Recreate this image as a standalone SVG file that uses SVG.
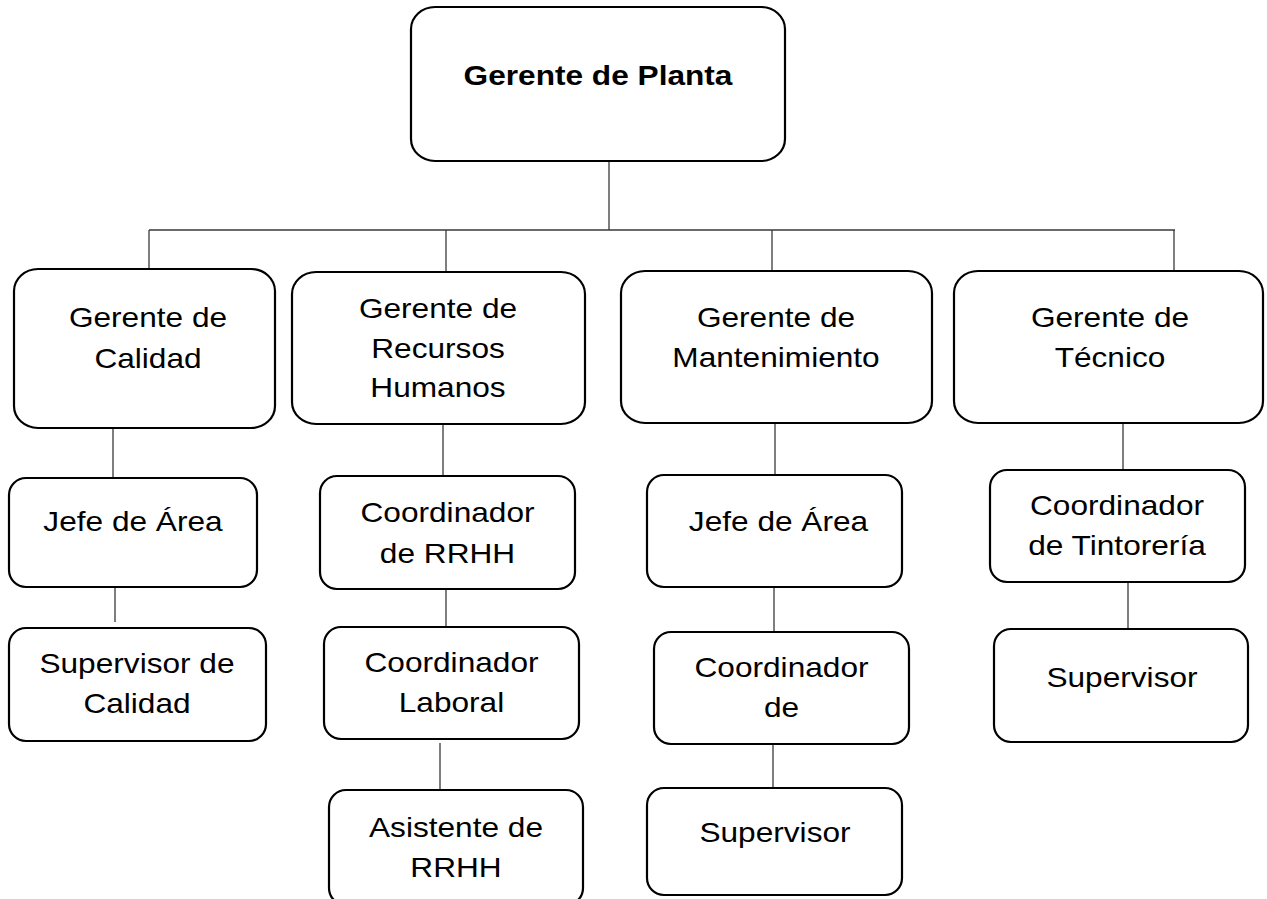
<svg xmlns="http://www.w3.org/2000/svg" width="1267" height="899" viewBox="0 0 1267 899">
<style>
.box{fill:#fff;stroke:#000;stroke-width:2.2}
.t{font-family:"Liberation Sans",Arial,sans-serif;font-size:28.5px;fill:#000;text-anchor:middle}
.b{font-weight:bold}
.c{stroke:#3a3a3a;stroke-width:1.3;fill:none}
</style>
<rect width="1267" height="899" fill="#fff"/>
<g id="connectors">
<path class="c" d="M609 161V230M149 230H1175M149 230V269M446 230V272M772 230V271M1174 230V271"/>
<path class="c" d="M113 428V478M115 587V622"/>
<path class="c" d="M443 424V476M446 589V627M440 743V790"/>
<path class="c" d="M775 423V475M774 587V632M773 744V788"/>
<path class="c" d="M1123 423V470M1128 582V629"/>
</g>
<g id="gerente-planta">
<rect class="box" x="411" y="7" width="374" height="154" rx="24" ry="22"/>
<text class="t b" transform="translate(598 85) scale(1.11 1)">Gerente de Planta</text>
</g>
<g id="gerente-calidad">
<rect class="box" x="14" y="269" width="261" height="159" rx="24" ry="22"/>
<text class="t" transform="translate(148 327) scale(1.11 1)"><tspan x="0">Gerente de</tspan><tspan x="0" dy="41">Calidad</tspan></text>
</g>
<g id="gerente-rrhh">
<rect class="box" x="292" y="272" width="293" height="152" rx="24" ry="22"/>
<text class="t" transform="translate(438 318) scale(1.11 1)"><tspan x="0">Gerente de</tspan><tspan x="0" dy="40">Recursos</tspan><tspan x="0" dy="39">Humanos</tspan></text>
</g>
<g id="gerente-mantenimiento">
<rect class="box" x="621" y="271" width="311" height="152" rx="24" ry="22"/>
<text class="t" transform="translate(776 327) scale(1.11 1)"><tspan x="0">Gerente de</tspan><tspan x="0" dy="40">Mantenimiento</tspan></text>
</g>
<g id="gerente-tecnico">
<rect class="box" x="954" y="271" width="309" height="152" rx="24" ry="22"/>
<text class="t" transform="translate(1110 327) scale(1.11 1)"><tspan x="0">Gerente de</tspan><tspan x="0" dy="40">Técnico</tspan></text>
</g>
<g id="calidad-jefe">
<rect class="box" x="9" y="478" width="248" height="109" rx="17" ry="17"/>
<text class="t" transform="translate(133 531) scale(1.11 1)">Jefe de Área</text>
</g>
<g id="calidad-supervisor">
<rect class="box" x="9" y="628" width="257" height="113" rx="17" ry="17"/>
<text class="t" transform="translate(137 673) scale(1.11 1)"><tspan x="0">Supervisor de</tspan><tspan x="0" dy="40">Calidad</tspan></text>
</g>
<g id="rrhh-coordinador">
<rect class="box" x="320" y="476" width="255" height="113" rx="17" ry="17"/>
<text class="t" transform="translate(447.5 522) scale(1.11 1)"><tspan x="0">Coordinador</tspan><tspan x="0" dy="41">de RRHH</tspan></text>
</g>
<g id="rrhh-laboral">
<rect class="box" x="324" y="627" width="255" height="112" rx="17" ry="17"/>
<text class="t" transform="translate(451.5 672) scale(1.11 1)"><tspan x="0">Coordinador</tspan><tspan x="0" dy="40">Laboral</tspan></text>
</g>
<g id="rrhh-asistente">
<rect class="box" x="329" y="790" width="254" height="115" rx="17" ry="17"/>
<text class="t" transform="translate(456 837) scale(1.11 1)"><tspan x="0">Asistente de</tspan><tspan x="0" dy="40">RRHH</tspan></text>
</g>
<g id="mant-jefe">
<rect class="box" x="647" y="475" width="255" height="112" rx="17" ry="17"/>
<text class="t" transform="translate(778.5 531) scale(1.11 1)">Jefe de Área</text>
</g>
<g id="mant-coordinador">
<rect class="box" x="654" y="632" width="255" height="112" rx="17" ry="17"/>
<text class="t" transform="translate(781.5 677) scale(1.11 1)"><tspan x="0">Coordinador</tspan><tspan x="0" dy="40">de</tspan></text>
</g>
<g id="mant-supervisor">
<rect class="box" x="647" y="788" width="255" height="107" rx="17" ry="17"/>
<text class="t" transform="translate(775 842) scale(1.11 1)">Supervisor</text>
</g>
<g id="tec-coordinador">
<rect class="box" x="990" y="470" width="255" height="112" rx="17" ry="17"/>
<text class="t" transform="translate(1117 515) scale(1.11 1)"><tspan x="0">Coordinador</tspan><tspan x="0" dy="40">de Tintorería</tspan></text>
</g>
<g id="tec-supervisor">
<rect class="box" x="994" y="629" width="254" height="113" rx="17" ry="17"/>
<text class="t" transform="translate(1122 687) scale(1.11 1)">Supervisor</text>
</g>
</svg>
